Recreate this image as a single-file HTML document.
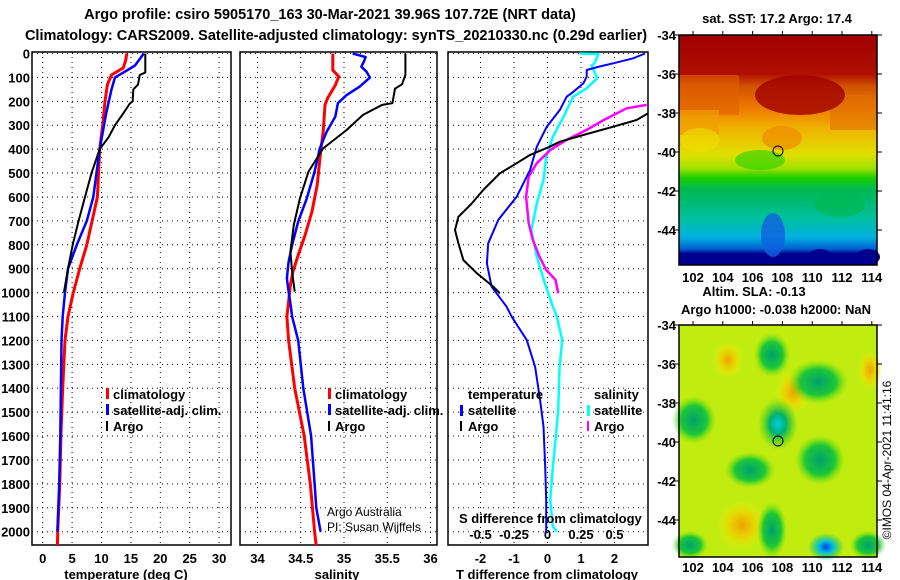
<!DOCTYPE html>
<html><head><meta charset="utf-8">
<style>
html,body{margin:0;padding:0;background:#fff;}
svg{display:block;font-family:"Liberation Sans",sans-serif;}
.b{font-weight:bold;font-size:13px;}
.t{font-weight:bold;font-size:14.5px;}
</style></head>
<body>
<svg id="chart" width="900" height="580" viewBox="0 0 900 580" xmlns="http://www.w3.org/2000/svg">
<defs>
<linearGradient id="sstg" x1="0" y1="0" x2="0" y2="1">
<stop offset="0" stop-color="#a00000"/><stop offset="0.17" stop-color="#b01000"/>
<stop offset="0.22" stop-color="#d05000"/><stop offset="0.33" stop-color="#f08000"/>
<stop offset="0.40" stop-color="#f0b000"/><stop offset="0.52" stop-color="#e0e000"/>
<stop offset="0.58" stop-color="#a0e000"/><stop offset="0.62" stop-color="#20d000"/>
<stop offset="0.67" stop-color="#00b850"/><stop offset="0.80" stop-color="#00c0a0"/>
<stop offset="0.88" stop-color="#00b0e0"/><stop offset="0.93" stop-color="#0060d0"/>
<stop offset="0.95" stop-color="#000090"/><stop offset="1" stop-color="#000090"/>
</linearGradient>
<radialGradient id="gblob"><stop offset="0" stop-color="#00a070"/><stop offset="0.6" stop-color="#00c040" stop-opacity="0.85"/><stop offset="1" stop-color="#60e000" stop-opacity="0"/></radialGradient>
<radialGradient id="cblob"><stop offset="0" stop-color="#00d0e0"/><stop offset="0.4" stop-color="#00b070"/><stop offset="1" stop-color="#40d000" stop-opacity="0"/></radialGradient>
<radialGradient id="oblob"><stop offset="0" stop-color="#f0a000"/><stop offset="0.5" stop-color="#f0d000" stop-opacity="0.8"/><stop offset="1" stop-color="#f0f000" stop-opacity="0"/></radialGradient>
<radialGradient id="bblob"><stop offset="0" stop-color="#0040e0"/><stop offset="0.4" stop-color="#00c0e0"/><stop offset="1" stop-color="#00c060" stop-opacity="0"/></radialGradient>
</defs>

<text class="t" x="330" y="19" text-anchor="middle">Argo profile: csiro 5905170_163 30-Mar-2021 39.96S 107.72E (NRT data)</text>
<text class="t" x="336" y="40" text-anchor="middle">Climatology: CARS2009. Satellite-adjusted climatology: synTS_20210330.nc (0.29d earlier)</text>

<g id="p1"></g>
<g id="p2"></g>
<g id="p3"></g>

<g class="b">
<rect x="106" y="388" width="3" height="11" fill="#f00"/><text x="113" y="399">climatology</text>
<rect x="106" y="404" width="3" height="11" fill="#00f"/><text x="113" y="415">satellite-adj. clim.</text>
<rect x="106" y="421" width="2" height="10" fill="#000"/><text x="113" y="431">Argo</text>
</g>
<g class="b">
<rect x="328" y="388" width="3" height="11" fill="#f00"/><text x="335" y="399">climatology</text>
<rect x="328" y="404" width="3" height="11" fill="#00f"/><text x="335" y="415">satellite-adj. clim.</text>
<rect x="328" y="421" width="2" height="10" fill="#000"/><text x="335" y="431">Argo</text>
</g>
<text x="327" y="516" font-size="12">Argo Australia</text>
<text x="327" y="531" font-size="12">PI: Susan Wijffels</text>
<g class="b">
<text x="468" y="399">temperature</text>
<rect x="460" y="405" width="3" height="11" fill="#00f"/><text x="468" y="415">satellite</text>
<rect x="460" y="421" width="2" height="10" fill="#000"/><text x="468" y="431">Argo</text>
<text x="594" y="399">salinity</text>
<rect x="587" y="405" width="3" height="11" fill="#0ff"/><text x="594" y="415">satellite</text>
<rect x="587" y="421" width="2" height="10" fill="#f0f"/><text x="594" y="431">Argo</text>
</g>
<text class="b" x="459" y="523">S difference from climatology</text>

<text class="b" x="126" y="579" text-anchor="middle">temperature (deg C)</text>
<text class="b" x="337" y="579" text-anchor="middle">salinity</text>
<text class="b" x="547" y="579" text-anchor="middle">T difference from climatology</text>

<text class="b" x="777" y="23" text-anchor="middle">sat. SST: 17.2 Argo: 17.4</text>
<g>
<rect x="679" y="35" width="198" height="230" fill="url(#sstg)"/>
<rect x="679" y="75" width="60" height="40" fill="#e06000" opacity="0.6"/>
<rect x="679" y="110" width="40" height="25" fill="#f0a000" opacity="0.7"/>
<rect x="830" y="95" width="47" height="35" fill="#e07000" opacity="0.6"/>
<ellipse cx="782" cy="138" rx="20" ry="12" fill="#f08000" opacity="0.6"/>
<ellipse cx="800" cy="95" rx="45" ry="20" fill="#a00000" opacity="0.8"/>
<ellipse cx="760" cy="160" rx="25" ry="10" fill="#20d000" opacity="0.6"/>
<ellipse cx="700" cy="140" rx="20" ry="12" fill="#f0e000" opacity="0.6"/>
<ellipse cx="840" cy="205" rx="25" ry="12" fill="#00b850" opacity="0.7"/>
<ellipse cx="773" cy="235" rx="12" ry="22" fill="#1060e0" opacity="0.8"/>
<ellipse cx="820" cy="257" rx="12" ry="8" fill="#000090"/>
<ellipse cx="868" cy="257" rx="12" ry="8" fill="#000090"/>
<circle cx="778" cy="151" r="5" fill="none" stroke="#000" stroke-width="1"/>
<rect x="679" y="35" width="198" height="230" fill="none" stroke="#000" stroke-width="1.5"/>
</g>
<text class="b" x="754" y="296" text-anchor="middle">Altim. SLA: -0.13</text>
<text class="b" x="776" y="314" text-anchor="middle">Argo h1000: -0.038 h2000: NaN</text>
<g>
<rect x="679" y="325" width="198" height="232" fill="#c0ec10"/>
<ellipse cx="728" cy="360" rx="15" ry="18" fill="url(#oblob)"/>
<ellipse cx="793" cy="392" rx="18" ry="22" fill="url(#oblob)"/>
<ellipse cx="742" cy="525" rx="25" ry="25" fill="url(#oblob)"/>
<ellipse cx="870" cy="370" rx="12" ry="20" fill="url(#oblob)"/>
<ellipse cx="772" cy="355" rx="18" ry="22" fill="url(#gblob)"/>
<ellipse cx="818" cy="382" rx="30" ry="22" fill="url(#gblob)"/>
<ellipse cx="694" cy="420" rx="22" ry="24" fill="url(#gblob)"/>
<ellipse cx="778" cy="424" rx="20" ry="26" fill="url(#cblob)"/>
<ellipse cx="820" cy="460" rx="25" ry="25" fill="url(#gblob)"/>
<ellipse cx="750" cy="470" rx="25" ry="18" fill="url(#gblob)"/>
<ellipse cx="772" cy="530" rx="15" ry="28" fill="url(#gblob)"/>
<ellipse cx="826" cy="547" rx="18" ry="14" fill="url(#bblob)"/>
<ellipse cx="690" cy="545" rx="18" ry="14" fill="url(#gblob)"/>
<ellipse cx="868" cy="545" rx="18" ry="14" fill="url(#gblob)"/>
<circle cx="778" cy="441" r="5" fill="none" stroke="#000" stroke-width="1"/>
<rect x="679" y="325" width="198" height="232" fill="none" stroke="#000" stroke-width="1.5"/>
</g>
<g id="mapaxes"></g>
<text x="891" y="460" font-size="12" text-anchor="middle" transform="rotate(-90 891 460)">©IMOS 04-Apr-2021 11:41:16</text>
</svg>
<script>
const depthTicks=[0,100,200,300,400,500,600,700,800,900,1000,1100,1200,1300,1400,1500,1600,1700,1800,1900,2000];
const tempTicks=[0,5,10,15,20,25,30];
const salTicks=[34,34.5,35,35.5,36];
const tdiffTicks=[-2,-1,0,1,2];
const sdiffTicks=[-0.5,-0.25,0,0.25,0.5];
const sdiffLabels=["-0.5","-0.25","0","0.25","0.5"];

const tClimD=[0,30,60,90,130,200,300,400,600,800,900,1000,1100,1200,1400,1600,1800,2000,2060];
const tClimV=[14.3,14.1,13.7,11.7,11.0,10.6,10.2,9.7,9.3,7.5,6.3,5.2,4.3,3.8,3.4,3.1,2.9,2.55,2.5];
const tSatD=[0,50,80,100,150,250,400,600,700,800,900,1000,1100,1200,1400,1600,1800,2000];
const tSatV=[17.2,15.7,13.7,12.3,11.7,10.8,9.7,8.6,7.5,5.8,4.3,3.8,3.4,3.2,3.1,3.0,2.8,2.5];
const tArgoD=[0,80,90,130,150,200,210,250,300,350,400,500,600,700,800,900,1000];
const tArgoV=[17.45,17.45,16.5,16.2,15.4,15.3,14.8,13.7,12.3,11.2,9.7,8.3,7.2,6.1,5.1,4.3,3.6];

const sClimD=[0,70,96,132,187,215,327,411,550,661,759,843,912,968,1038,1100,1200,1400,1600,1800,2000,2060];
const sClimV=[34.87,34.87,34.94,34.90,34.81,34.78,34.76,34.73,34.69,34.63,34.55,34.47,34.41,34.38,34.36,34.34,34.36,34.43,34.54,34.61,34.66,34.68];
const sSatD=[0,15,34,55,76,101,139,174,208,264,327,397,494,606,703,801,871,940,996,1044,1100,1200,1400,1600,1800,1900,2000];
const sSatV=[35.10,35.25,35.23,35.20,35.26,35.30,35.18,35.03,34.93,34.90,34.80,34.72,34.66,34.57,34.47,34.40,34.36,34.34,34.36,34.38,34.40,34.47,34.53,34.62,34.66,34.68,34.73];
const sArgoD=[0,90,129,147,208,215,257,320,397,494,606,717,829,912,996];
const sArgoV=[35.71,35.71,35.67,35.59,35.56,35.44,35.22,35.03,34.76,34.59,34.49,34.42,34.38,34.40,34.43];

const dtSatD=[0,20,41,54,69,97,125,160,181,236,306,390,487,599,696,794,878,975,1059,1101,1198,1310,1449,1560,1728,1867,2007];
const dtSatV=[2.91,2.56,1.96,1.57,1.17,1.17,1.07,0.77,0.57,0.37,-0.02,-0.32,-0.52,-0.92,-1.47,-1.77,-1.81,-1.67,-1.22,-1.07,-0.62,-0.37,-0.22,-0.12,-0.07,-0.04,-0.04];
const dtArgoD=[250,278,306,341,369,390,424,459,501,571,627,683,738,794,864,919,975,1003];
const dtArgoV=[3.0,2.66,1.96,1.07,0.37,0.07,-0.52,-0.92,-1.42,-1.92,-2.26,-2.66,-2.76,-2.66,-2.51,-2.11,-1.62,-1.42];
const dsSatD=[0,2,41,50,104,146,181,264,348,432,529,627,738,850,961,1059,1101,1198,1310,1491,1616,1728,1867,1979,2000];
const dsSatV=[0.24,0.38,0.35,0.33,0.37,0.29,0.19,0.12,0.04,-0.01,-0.03,-0.08,-0.12,-0.08,-0.02,0.04,0.07,0.11,0.09,0.08,0.06,0.04,0.02,0.04,0.07];
const dsArgoD=[215,229,278,320,362,404,459,515,599,710,780,850,905,947,1003];
const dsArgoV=[0.74,0.59,0.42,0.29,0.14,0.02,-0.08,-0.14,-0.16,-0.14,-0.11,-0.06,-0.01,0.06,0.08];

const lonTicks=[102,104,106,108,110,112,114];
const latTicks=[-34,-36,-38,-40,-42,-44];

const NS="http://www.w3.org/2000/svg";
const TOP=52,BOT=545;
const yD=d=>53.5+d*0.2391;
const xT=v=>42.7+v*5.88;
const xS=v=>257.5+(v-34)*86.5;
const xDT=v=>547.5+v*33.5;
const xDS=v=>547.5+v*134;
const mapX=l=>693+(l-102)*14.9;
const mapY1=l=>35+(-34-l)*19.5;
const mapY2=l=>325+(-34-l)*19.5;

function mk(tag,attrs,parent){const e=document.createElementNS(NS,tag);for(const k in attrs)e.setAttribute(k,attrs[k]);parent.appendChild(e);return e;}

function panel(g,x0,x1,xticks,xs,labels,showY){
  const clipId='c'+g.id;
  const cp=mk('clipPath',{id:clipId},g);mk('rect',{x:x0,y:TOP,width:x1-x0,height:BOT-TOP},cp);
  depthTicks.forEach(d=>{
    const l=mk('line',{x1:x0,x2:x1,y1:yD(d),y2:yD(d),stroke:'#000','stroke-width':1,'stroke-dasharray':'1,4'},g);
    
    
    if(showY){const t=mk('text',{x:30,y:yD(d)+5,'text-anchor':'end','class':'b'},g);t.textContent=d;
      
      }
  });
  xticks.forEach((v,i)=>{
    const l=mk('line',{x1:xs(v),x2:xs(v),y1:TOP,y2:BOT,stroke:'#000','stroke-width':1,'stroke-dasharray':'1,4'},g);
    
    
    const t=mk('text',{x:xs(v),y:563,'text-anchor':'middle','class':'b'},g);t.textContent=labels?labels[i]:v;
    
    
  });
  const f=mk('rect',{x:x0,y:TOP,width:x1-x0,height:BOT-TOP,fill:'none',stroke:'#000','stroke-width':1.5},g);
  
  
  return clipId;
}
function line(g,clip,D,V,xs,color,w,name){
  const pts=D.map((d,i)=>xs(V[i]).toFixed(1)+','+yD(d).toFixed(1)).join(' ');
  const p=mk('polyline',{points:pts,fill:'none',stroke:color,'stroke-width':w,'clip-path':'url(#'+clip+')','stroke-linejoin':'round'},g);
  
  
}
const p1=document.getElementById('p1'),p2=document.getElementById('p2'),p3=document.getElementById('p3');
const c1=panel(p1,32,231,tempTicks,xT,null,true);
line(p1,c1,tClimD,tClimV,xT,'#f00',3,'temp-climatology-line');
line(p1,c1,tSatD,tSatV,xT,'#00f',2.5,'temp-satellite-line');
line(p1,c1,tArgoD,tArgoV,xT,'#000',2,'temp-argo-line');
const c2=panel(p2,240,437,salTicks,xS,null,false);
line(p2,c2,sClimD,sClimV,xS,'#f00',3,'sal-climatology-line');
line(p2,c2,sSatD,sSatV,xS,'#00f',2.5,'sal-satellite-line');
line(p2,c2,sArgoD,sArgoV,xS,'#000',2,'sal-argo-line');
const c3=panel(p3,448,648,tdiffTicks,xDT,null,false);
sdiffTicks.forEach((v,i)=>{const t=mk('text',{x:xDS(v),y:539,'text-anchor':'middle','class':'b'},p3);t.textContent=sdiffLabels[i];
  
  });
line(p3,c3,dsSatD,dsSatV,xDS,'#0ff',2.5,'sdiff-satellite-line');
line(p3,c3,dsArgoD,dsArgoV,xDS,'#f0f',2.5,'sdiff-argo-line');
line(p3,c3,dtSatD,dtSatV,xDT,'#00f',2,'tdiff-satellite-line');
line(p3,c3,dtArgoD,dtArgoV,xDT,'#000',2,'tdiff-argo-line');

const ma=document.getElementById('mapaxes');
[[mapY1,282],[mapY2,572]].forEach(([my,ly])=>{
  lonTicks.forEach(l=>{
    mk('line',{x1:mapX(l),x2:mapX(l),y1:my(-34),y2:my(-34)-4,stroke:'#000'},ma);
    const t=mk('text',{x:mapX(l),y:ly,'text-anchor':'middle','class':'b'},ma);t.textContent=l;
    
    
  });
  latTicks.forEach(l=>{
    mk('line',{x1:673,x2:679,y1:my(l),y2:my(l),stroke:'#000'},ma);
    mk('line',{x1:877,x2:882,y1:my(l),y2:my(l),stroke:'#000'},ma);
    const t=mk('text',{x:676,y:my(l)+5,'text-anchor':'end','class':'b'},ma);t.textContent=l;
    
    
  });
});
</script>
</body></html>
